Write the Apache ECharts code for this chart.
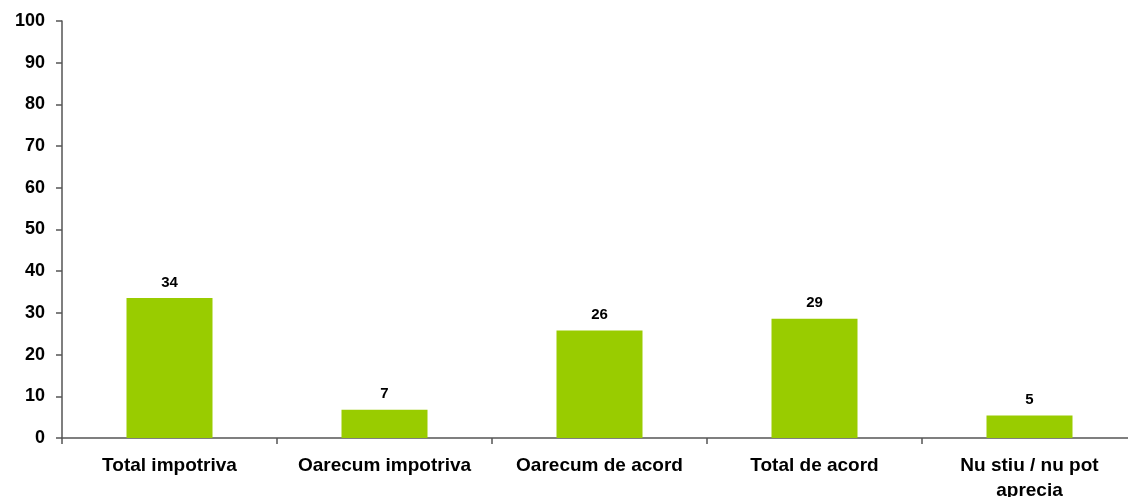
<!DOCTYPE html>
<html>
<head>
<meta charset="utf-8">
<script src="https://cdn.jsdelivr.net/npm/echarts@6/dist/echarts.min.js"></script>
<style>
  html, body { margin: 0; padding: 0; background: #fff; }
  #chart { width: 1128px; height: 497px; }
</style>
</head>
<body>
<div id="chart"></div>
<script>
// categorii si valori (%)
const categories = ['Total impotriva', 'Oarecum impotriva', 'Oarecum de acord', 'Total de acord', 'Nu stiu / nu pot\naprecia']
const values = [33.6, 6.8, 25.8, 28.6, 5.4]
const yMin = 0
const yMax = 100
const yStep = 10

const font = '"Liberation Sans", Arial, sans-serif'
const chart = echarts.init(document.getElementById('chart'))
chart.setOption({
  animation: false,
  grid: { left: 62, right: -9, top: 21, bottom: 59, outerBoundsMode: 'none', containLabel: false },
  xAxis: {
    type: 'category',
    data: categories,
    axisLine: { lineStyle: { color: '#555', width: 1.5 } },
    axisTick: { show: true, length: 6, lineStyle: { color: '#555', width: 1.5 } },
    axisLabel: {
      color: '#000',
      fontFamily: font,
      fontWeight: 'bold',
      fontSize: 19,
      lineHeight: 25,
      margin: 15,
      interval: 0
    }
  },
  yAxis: {
    type: 'value',
    min: yMin,
    max: yMax,
    interval: yStep,
    splitLine: { show: false },
    axisLine: { show: true, lineStyle: { color: '#555', width: 1.5 } },
    axisTick: { show: true, length: 6, lineStyle: { color: '#555', width: 1.5 } },
    axisLabel: {
      color: '#000',
      fontFamily: font,
      fontWeight: 'bold',
      fontSize: 18,
      margin: 17
    }
  },
  series: [{
    type: 'bar',
    data: values,
    barWidth: '40%',
    itemStyle: { color: '#99CC00' },
    label: {
      show: true,
      position: 'top',
      distance: 8,
      color: '#000',
      fontFamily: font,
      fontWeight: 'bold',
      fontSize: 15,
      formatter: p => Math.round(p.value)
    }
  }]
})
</script>
</body>
</html>
